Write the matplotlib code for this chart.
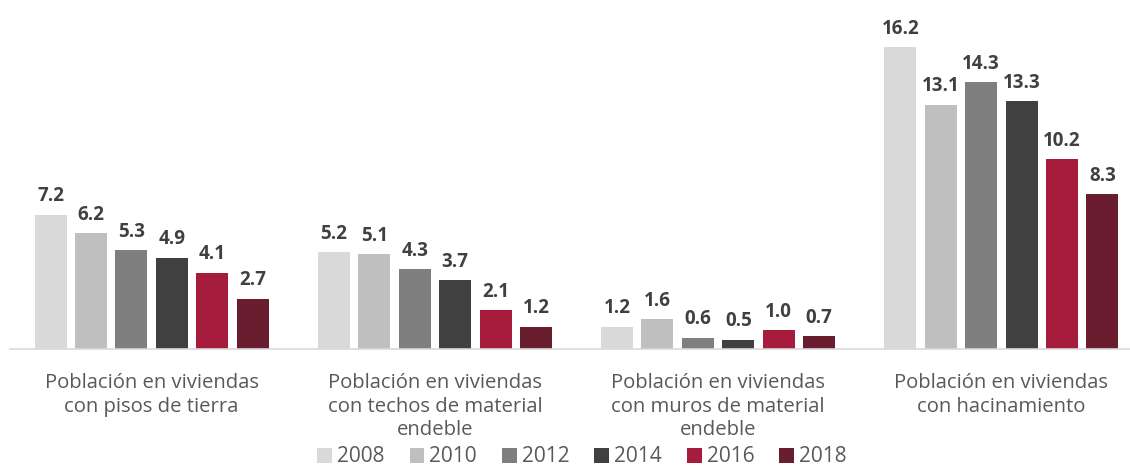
import matplotlib
matplotlib.use("Agg")
import matplotlib.pyplot as plt
import numpy as np

categories = ["Población en viviendas\ncon pisos de tierra",
              "Población en viviendas\ncon techos de material\nendeble",
              "Población en viviendas\ncon muros de material\nendeble",
              "Población en viviendas\ncon hacinamiento"]
years = ["2008", "2010", "2012", "2014", "2016", "2018"]
values = {
    "2008": [7.2, 5.2, 1.2, 16.2],
    "2010": [6.2, 5.1, 1.6, 13.1],
    "2012": [5.3, 4.3, 0.6, 14.3],
    "2014": [4.9, 3.7, 0.5, 13.3],
    "2016": [4.1, 2.1, 1.0, 10.2],
    "2018": [2.7, 1.2, 0.7, 8.3],
}
colors = ["#D9D9D9", "#BFBFBF", "#7F7F7F", "#404040", "#A51C3C", "#6B1D30"]

W, H = 1130, 468
fig = plt.figure(figsize=(W/100, H/100), dpi=100)
base_px = 349
top_px = 23
left_px = 10
right_px = 1143
ax = fig.add_axes([left_px/W, (H-base_px)/H, (right_px-left_px)/W, (base_px-top_px)/H])
ymax = 16.2 * (base_px - top_px) / (349 - 47)
ax.set_ylim(0, ymax)
ax.set_xlim(-0.5, 3.5)

x = np.arange(len(categories))
step = 0.1427
bw = 0.113
for i, (yr, c) in enumerate(zip(years, colors)):
    pos = x + (i - 2.5) * step
    bars = ax.bar(pos, values[yr], width=bw, color=c, label=yr)
    for xp, v in zip(pos, values[yr]):
        ax.annotate(f"{v:.1f}", (xp, v), xytext=(0, 6), textcoords="offset points",
                    ha="center", va="bottom", fontsize=13.5, fontweight="bold",
                    color="#404040", family="Open Sans")

for s in ["top", "right", "left"]:
    ax.spines[s].set_visible(False)
ax.spines["bottom"].set_color("#D9D9D9")
ax.spines["bottom"].set_linewidth(1.2)
ax.set_yticks([])
ax.set_xticks(x)
ax.set_xticklabels(categories, fontsize=14.6, color="#595959", family="Open Sans",
                   linespacing=1.26)
ax.tick_params(axis="x", length=0, pad=17)

leg = fig.legend(loc="center", bbox_to_anchor=(582/W, 1 - 457/H), ncol=6,
                 frameon=False, handlelength=0.7, handleheight=0.7,
                 handletextpad=0.25, columnspacing=1.2,
                 prop={"family": "Open Sans", "size": 15})
for t in leg.get_texts():
    t.set_color("#595959")

fig.savefig("out.png", dpi=100)
